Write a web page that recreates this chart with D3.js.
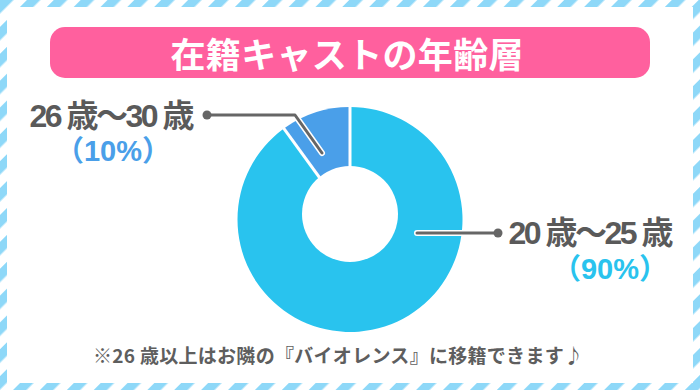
<!DOCTYPE html>
<html>
<head>
<meta charset="utf-8">
<script src="https://cdn.jsdelivr.net/npm/d3@7"></script>
<style>
  html, body { margin: 0; padding: 0; background: #fff; }
  svg { display: block; }
  text { font-family: "Noto Sans CJK JP", "Noto Sans", sans-serif; }
  text.lbl { font-family: "Liberation Sans", "Noto Sans CJK JP", sans-serif; }
</style>
</head>
<body>
<div id="viz"></div>
<script>
// Data
const title = '在籍キャストの年齢層';
const groups = ['20 歳〜25 歳', '26 歳〜30 歳'];
const shares = [90, 10];
const shareLabels = ['（90%）', '（10%）'];
const footnote = '※26 歳以上はお隣の『バイオレンス』に移籍できます♪';

const colors = ['#29c3ee', '#4a9fe9'];

// Canvas
const W = 700, H = 390;
const cx = 350, cy = 219.5;
const outerR = 112.5, holeR = 48;

const svg = d3.select('#viz')
  .append('svg')
  .attr('width', W)
  .attr('height', H);

// Striped frame
const defs = svg.append('defs');
const pat = defs.append('pattern')
  .attr('id', 'stripes')
  .attr('patternUnits', 'userSpaceOnUse')
  .attr('width', 19)
  .attr('height', 19)
  .attr('patternTransform', 'rotate(45)');
pat.append('rect').attr('width', 19).attr('height', 19).attr('fill', '#fff');
pat.append('rect').attr('width', 9.5).attr('height', 19).attr('fill', '#8ed8f8');

svg.append('rect').attr('width', W).attr('height', H).attr('fill', 'url(#stripes)');
svg.append('rect')
  .attr('x', 7).attr('y', 7)
  .attr('width', W - 14).attr('height', H - 14)
  .attr('fill', '#fff');

// Title banner
svg.append('rect')
  .attr('x', 50).attr('y', 27)
  .attr('width', 600).attr('height', 51)
  .attr('rx', 15)
  .attr('fill', '#ff609e');
svg.append('text')
  .attr('x', 347).attr('y', 52.5)
  .attr('text-anchor', 'middle')
  .attr('dominant-baseline', 'central')
  .attr('font-size', 35)
  .attr('font-weight', 700)
  .attr('fill', '#fff')
  .attr('textLength', 353)
  .text(title);

// Pie
const pie = d3.pie().sort(null).value(d => d);
const arc = d3.arc().innerRadius(0).outerRadius(outerR);
const g = svg.append('g').attr('transform', `translate(${cx},${cy})`);

const arcs = pie(shares);
g.selectAll('path.slice')
  .data(arcs)
  .enter()
  .append('path')
  .attr('class', 'slice')
  .attr('d', arc)
  .attr('fill', (d, i) => colors[i]);

// slice separators
g.selectAll('line.sep')
  .data(arcs)
  .enter()
  .append('line')
  .attr('class', 'sep')
  .attr('x1', 0).attr('y1', 0)
  .attr('x2', d => Math.sin(d.startAngle) * (outerR + 2))
  .attr('y2', d => -Math.cos(d.startAngle) * (outerR + 2))
  .attr('stroke', '#fff')
  .attr('stroke-width', 3);

// hole
g.append('circle')
  .attr('cx', 0).attr('cy', -5.5)
  .attr('r', holeR)
  .attr('fill', '#fff');

// Leader lines
const leaders = [
  { pts: [[417, 233], [498, 233]], dot: [498, 233] },
  { pts: [[322, 153], [295, 115], [207, 115]], dot: [207, 115] }
];
const line = d3.line();
leaders.forEach(l => {
  svg.append('path')
    .attr('d', line(l.pts))
    .attr('fill', 'none')
    .attr('stroke', '#fff')
    .attr('stroke-width', 6)
    .attr('stroke-linecap', 'round')
    .attr('stroke-linejoin', 'round');
  svg.append('path')
    .attr('d', line(l.pts))
    .attr('fill', 'none')
    .attr('stroke', '#666')
    .attr('stroke-width', 3)
    .attr('stroke-linecap', 'round')
    .attr('stroke-linejoin', 'round');
  svg.append('circle')
    .attr('cx', l.dot[0]).attr('cy', l.dot[1])
    .attr('r', 4.5)
    .attr('fill', '#666');
});

// Labels
const labelPos = [
  { x: 591, y: 244, sx: 610, sy: 279 },
  { x: 112, y: 127, sx: 113, sy: 161 }
];
groups.forEach((name, i) => {
  const p = labelPos[i];
  svg.append('text')
    .attr('class', 'lbl')
    .attr('x', p.x).attr('y', p.y)
    .attr('text-anchor', 'middle')
    .attr('font-size', 32)
    .attr('font-weight', 700)
    .attr('fill', '#5a5a5a')
    .attr('textLength', 165)
    .text(name);
  svg.append('text')
    .attr('class', 'lbl')
    .attr('x', p.sx).attr('y', p.sy)
    .attr('text-anchor', 'middle')
    .attr('font-size', 29)
    .attr('font-weight', 700)
    .attr('fill', colors[i])
    .text(shareLabels[i]);
});

// Footnote
svg.append('text')
  .attr('x', 338).attr('y', 363)
  .attr('text-anchor', 'middle')
  .attr('font-size', 19)
  .attr('font-weight', 700)
  .attr('fill', '#5e5e5e')
  .attr('textLength', 490)
  .text(footnote);
</script>
</body>
</html>
